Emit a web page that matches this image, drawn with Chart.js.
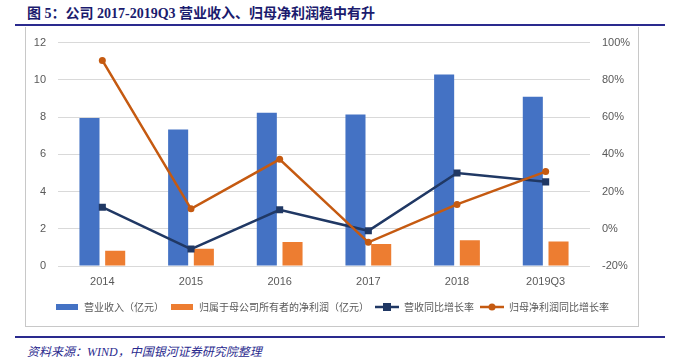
<!DOCTYPE html>
<html>
<head>
<meta charset="utf-8">
<script src="https://cdn.jsdelivr.net/npm/chart.js@4.4.1/dist/chart.umd.min.js"></script>
<style>
  body { margin: 0; width: 686px; height: 360px; background: #fff; position: relative; overflow: hidden; }
  #titulo { position: absolute; left: 27px; top: 2px; font: bold 14px "Liberation Serif", "Noto Sans CJK SC"; color: #1b1b6e; white-space: nowrap; }
  .regla { position: absolute; left: 15px; width: 650px; height: 2px; background: #2a2a8e; }
  #marco { position: absolute; left: 25px; top: 27px; width: 612px; height: 299px; border: 1px solid #c8c8c8; border-top: none; }
  #grafico { position: absolute; left: 26px; top: 24px; }
  #fuente { position: absolute; left: 27px; top: 342px; font: italic 12px "Liberation Serif", "Noto Sans CJK SC"; color: #2a2a8e; white-space: nowrap; }
</style>
</head>
<body>
<div id="titulo">图 5：公司 2017-2019Q3 营业收入、归母净利润稳中有升</div>
<div class="regla" style="top:24px"></div>
<div id="marco"></div>
<canvas id="grafico" width="612" height="302"></canvas>
<div class="regla" style="top:336px"></div>
<div id="fuente">资料来源：WIND，中国银河证券研究院整理</div>
<script>
const periodos = ["2014", "2015", "2016", "2017", "2018", "2019Q3"];
const ingresos = [7.95, 7.33, 8.23, 8.14, 10.28, 9.09];
const utilidad = [0.82, 0.93, 1.29, 1.18, 1.38, 1.32];
const crecIngresos = [11.6, -10.9, 10.2, -1.1, 30.0, 25.2];
const crecUtilidad = [90.4, 10.7, 37.3, -7.3, 13.1, 30.7];
const ticksIzq = [0, 2, 4, 6, 8, 10, 12];
const ticksDer = [-20, 0, 20, 40, 60, 80, 100];

const azul = "#4472c4";
const naranja = "#ed7d31";
const marino = "#203864";
const oxido = "#c55a11";

// iconos de la leyenda
const icono = (tipo, color) => {
  const c = document.createElement("canvas");
  c.width = 24; c.height = 10;
  const g = c.getContext("2d");
  if (tipo === "barra") {
    g.fillStyle = color;
    g.fillRect(1, 2, 22, 6);
  } else {
    g.strokeStyle = color; g.lineWidth = 2.5;
    g.beginPath(); g.moveTo(0, 5); g.lineTo(24, 5); g.stroke();
    g.fillStyle = color;
    if (tipo === "cuadro") g.fillRect(8, 1, 8, 8);
    else { g.beginPath(); g.arc(12, 5, 3.5, 0, Math.PI * 2); g.fill(); }
  }
  return c;
};
const iconos = [icono("barra", azul), icono("barra", naranja), icono("cuadro", marino), icono("circulo", oxido)];

const fuenteEje = { family: "Liberation Sans", size: 11 };

const config = {
  data: {
    labels: periodos,
    datasets: [
      { type: "bar", label: "营业收入（亿元）", data: ingresos, backgroundColor: azul, yAxisID: "y", order: 2,
        categoryPercentage: 0.58, barPercentage: 0.78 },
      { type: "bar", label: "归属于母公司所有者的净利润（亿元）", data: utilidad, backgroundColor: naranja, yAxisID: "y", order: 2,
        categoryPercentage: 0.58, barPercentage: 0.78 },
      { type: "line", label: "营收同比增长率", data: crecIngresos, borderColor: marino, backgroundColor: marino, yAxisID: "y1", order: 1,
        borderWidth: 2.5, pointStyle: "rect", pointRadius: 5, pointBorderWidth: 0, tension: 0 },
      { type: "line", label: "归母净利润同比增长率", data: crecUtilidad, borderColor: oxido, backgroundColor: oxido, yAxisID: "y1", order: 0,
        borderWidth: 2.5, pointStyle: "circle", pointRadius: 3.5, pointBorderWidth: 0, tension: 0 },
    ],
  },
  options: {
    responsive: false,
    animation: false,
    layout: { padding: { top: 0, left: 0, right: 0, bottom: 4 } },
    plugins: {
      tooltip: { enabled: false },
      legend: {
        display: true,
        position: "bottom",
        labels: {
          usePointStyle: true,
          pointStyleWidth: 24,
          padding: 6,
          color: "#595959",
          font: { family: "Noto Sans CJK SC", size: 10 },
          sort: (a, b) => a.datasetIndex - b.datasetIndex,
          generateLabels: (chart) => {
            const base = Chart.defaults.plugins.legend.labels.generateLabels(chart);
            return base.map((item) => ({ ...item, pointStyle: iconos[item.datasetIndex] }));
          },
        },
      },
    },
    scales: {
      x: {
        grid: { display: false, drawTicks: false },
        border: { display: false },
        ticks: { color: "#595959", font: fuenteEje, padding: 9 },
        afterFit: (eje) => { eje.height = 30; },
      },
      y: {
        position: "left",
        min: 0, max: 12,
        afterBuildTicks: (eje) => { eje.ticks = ticksIzq.map((v) => ({ value: v })); },
        grid: { color: "#d9d9d9", drawTicks: false },
        border: { display: false },
        ticks: { color: "#595959", font: fuenteEje, padding: 12 },
        afterFit: (eje) => { eje.width = 32; },
      },
      y1: {
        position: "right",
        min: -20, max: 100,
        afterBuildTicks: (eje) => { eje.ticks = ticksDer.map((v) => ({ value: v })); },
        grid: { display: false, drawTicks: false },
        border: { display: false },
        ticks: { color: "#595959", font: fuenteEje, padding: 12, callback: (v) => v + "%" },
        afterFit: (eje) => { eje.width = 48; },
      },
    },
  },
};

const ctx = document.getElementById("grafico").getContext("2d");
const miGrafico = new Chart(ctx, config);
</script>
</body>
</html>
